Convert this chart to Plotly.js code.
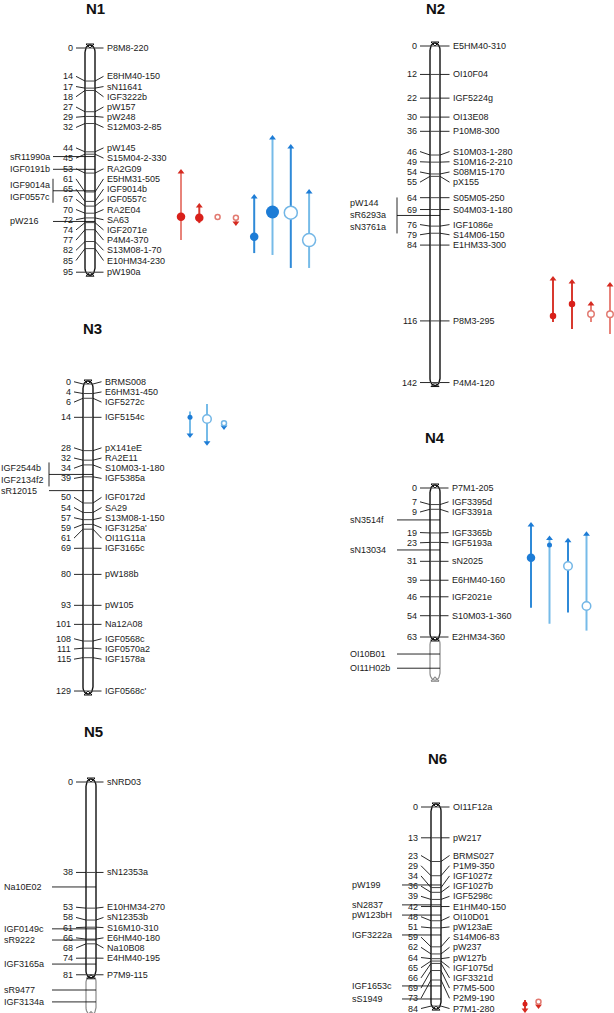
<!DOCTYPE html>
<html><head><meta charset="utf-8">
<script src="https://cdn.plot.ly/plotly-3.0.1.min.js"></script>
<style>html,body{margin:0;padding:0;background:#fff;}#chart{width:614px;height:1013px;}</style>
</head><body><div id="chart"></div>
<script>
// ================= DATA =================
const chromNames = ['N1','N2','N3','N4','N5','N6'];
const chromLength = [95,142,129,63,81,84];
const chromExtension = [null,null,null,80,96.5,null];

const n1Pos = [0,14,17,18,27,29,32,44,45,53,61,65,67,70,72,74,77,82,85,95];
const n1Markers = ['P8M8-220','E8HM40-150','sN11641','IGF3222b','pW157','pW248','S12M03-2-85','pW145','S15M04-2-330','RA2G09','E5HM31-505','IGF9014b','IGF0557c','RA2E04','SA63','IGF2071e','P4M4-370','S13M08-1-70','E10HM34-230','pW190a'];
const n1LeftNames = ['sR11990a','IGF0191b','IGF9014a','IGF0557c','pW216'];
const n1LeftPos = [46,51.4,60.5,60.5,73.5];

const n2Pos = [0,12,22,30,36,46,49,54,55,64,69,76,79,84,116,142];
const n2Markers = ['E5HM40-310','OI10F04','IGF5224g','OI13E08','P10M8-300','S10M03-1-280','S10M16-2-210','S08M15-170','pX155','S05M05-250','S04M03-1-180','IGF1086e','S14M06-150','E1HM33-300','P8M3-295','P4M4-120'];
const n2LeftNames = ['pW144','sR6293a','sN3761a'];
const n2LeftPos = [71.5,71.5,71.5];

const n3Pos = [0,4,6,14,28,32,34,39,50,54,57,59,61,69,80,93,101,108,111,115,129];
const n3Markers = ['BRMS008','E6HM31-450','IGF5272c','IGF5154c','pX141eE','RA2E11','S10M03-1-180','IGF5385a','IGF0172d','SA29','S13M08-1-150',"IGF3125a'",'OI11G11a','IGF3165c','pW188b','pW105','Na12A08','IGF0568c','IGF0570a2','IGF1578a',"IGF0568c'"];
const n3LeftNames = ['IGF2544b','IGF2134f2','sR12015'];
const n3LeftPos = [38,38,44.8];

const n4Pos = [0,7,9,19,23,31,39,46,54,63];
const n4Markers = ['P7M1-205','IGF3395d','IGF3391a','IGF3365b','IGF5193a','sN2025','E6HM40-160','IGF2021e','S10M03-1-360','E2HM34-360'];
const n4LeftNames = ['sN3514f','sN13034','OI10B01','OI11H02b'];
const n4LeftPos = [13.5,26.2,70.2,76.2];

const n5Pos = [0,38,53,58,61,66,68,74,81];
const n5Markers = ['sNRD03','sN12353a','E10HM34-270','sN12353b','S16M10-310','E6HM40-180','Na10B08','E4HM40-195','P7M9-115'];
const n5LeftNames = ['Na10E02','IGF0149c','sR9222','IGF3165a','sR9477','IGF3134a'];
const n5LeftPos = [44.1,61.7,66.4,76.5,87.4,92.4];

const n6Pos = [0,13,23,29,34,36,39,42,48,51,59,62,64,65,66,69,73,84];
const n6Markers = ['OI11F12a','pW217','BRMS027','P1M9-350','IGF1027z','IGF1027b','IGF5298c','E1HM40-150','OI10D01','pW123aE','S14M06-83','pW237','pW127b','IGF1075d','IGF3321d','P7M5-500','P2M9-190','P7M1-280'];
const n6LeftNames = ['pW199','sN2837','pW123bH','IGF3222a','IGF1653c','sS1949'];
const n6LeftPos = [32.9,41.3,45.6,54,75.5,81];

// QTLs
const qtlChrom  = [0,0,0,0,0,0,0,0, 1,1,1,1, 2,2,2, 3,3,3,3, 5,5];
const qtlColumn = [0,1,2,3,4,5,6,7, 0,1,2,3, 0,1,2, 0,1,2,3, 0,1];
const qtlPeak = [71.5,71.9,71.6,71.9,80,69.5,69.8,81.4, 113.9,108.9,113.1,113.2, 14,14.7,16.5, 29.5,24.1,33,49.9, 83.1,82.2];
const qtlLow  = [52.5,67,71.6,71.9,63.1,38.1,41.9,61, 98.3,99.6,108.9,100.8, 11.6,8.4,16.5, 15.6,21.4,22.3,19.6, 81.4,82.2];
const qtlHigh = [81.4,74.2,71.6,74.2,86.9,87.7,93.2,93.2, 116.5,119.4,116.5,121.5, 21.4,24.7,18.1, 50.6,57.4,52.6,60.3, 85.7,84];
const qtlTrait  = ['A','A','A','A','B','B','B','B', 'A','A','A','A', 'B','B','B', 'B','B','B','B', 'A','A'];
const qtlFilled = [1,1,0,0,1,1,0,0, 1,1,0,0, 1,0,0, 1,1,0,0, 1,0];
const qtlEffect = [3,3,1,1,3,4,4,4, 2,2,2,2, 1,3,1, 3,1,3,3, 1,1];
const qtlDir = ['up','up','none','down','up','up','up','up', 'up','up','up','up', 'down','down','down', 'up','up','up','up', 'down','down'];
const qtlSet = [2,1,1,2,1,2,1,2, 1,1,2,2, 2,2,1, 1,2,1,2, 1,1];

// ================= LAYOUT / STYLE =================
const W = 614, H = 1013;
const chromData = [
  [n1Pos,n1Markers,n1LeftNames,n1LeftPos],
  [n2Pos,n2Markers,n2LeftNames,n2LeftPos],
  [n3Pos,n3Markers,n3LeftNames,n3LeftPos],
  [n4Pos,n4Markers,n4LeftNames,n4LeftPos],
  [n5Pos,n5Markers,n5LeftNames,n5LeftPos],
  [n6Pos,n6Markers,n6LeftNames,n6LeftPos]
];
const cfg = {
  cx:    [90, 435, 88, 435, 91, 436],
  zeroY: [48, 46, 384, 488, 782, 807],
  scale: [2.36, 2.37, 2.38, 2.365, 2.38, 2.37],
  numR:  [73, 417, 71, 417, 73, 418],
  nameL: [107, 453, 105, 452, 107, 453],
  leftTx:[10, 350, 1, 350, 4, 352],
  leftLx:[53, 397, 49, 397, 52, 402],
  titleX:[95, 435, 92, 435, 93, 437],
  titleY:[8, 8, 329, 437, 731, 758],
  qx0:   [181, 553, 190, 531, 0, 525],
  qdx:   [18.3, 19, 17, 18.5, 0, 13.5]
};
const HW = 5, GAP = 10.2;
const FONT = 'Liberation Sans, Arial, sans-serif';
const TXT = '#1a1a1a';
const sizeMap = {1:5, 2:6.5, 3:8.5, 4:13};
const colors = {
  A:{dot:'#d9201a', arrow:'#d52a20', line:{1:'#d8392f',2:'#e8837a'}, open:'#e27a71'},
  B:{dot:'#1d7cd6', arrow:'#1d7cd6', line:{1:'#2f8ad8',2:'#76bbe8'}, open:'#72b6e6'}
};

const traces = [];
const annotations = [];
const layout = {
  width: W, height: H, margin:{l:0,r:0,t:0,b:0},
  paper_bgcolor:'#fff', plot_bgcolor:'#fff', showlegend:false,
  xaxis:{range:[0,W], visible:false, fixedrange:true},
  annotations: annotations
};
function yName(k){ return k===0 ? 'y' : 'y'+(k+1); }

function spread(vals, gap){
  let cl = vals.map(v=>({n:1,sum:v}));
  const top = c => c.sum/c.n - (c.n-1)*gap/2;
  let changed = true;
  while(changed){
    changed = false;
    for(let i=0;i<cl.length-1;i++){
      const a=cl[i], b=cl[i+1];
      if(top(b) - (top(a)+(a.n-1)*gap) < gap-1e-9){
        cl.splice(i,2,{n:a.n+b.n,sum:a.sum+b.sum}); changed=true; break;
      }
    }
  }
  const out=[];
  cl.forEach(c=>{ const t=top(c); for(let j=0;j<c.n;j++) out.push(t+j*gap); });
  return out;
}

function pill(cx, a, b, s){
  const ec = 7/s, xs=[], ys=[], N=14;
  for(let i=0;i<=N;i++){ const t=Math.PI-Math.PI*i/N; xs.push(cx+HW*Math.cos(t)); ys.push(a+ec-ec*Math.sin(t)); }
  for(let i=0;i<=N;i++){ const t=Math.PI*i/N; xs.push(cx+HW*Math.cos(t)); ys.push(b-ec+ec*Math.sin(t)); }
  xs.push(xs[0]); ys.push(ys[0]);
  return [xs, ys];
}
function cap(cx, tip, s, dir, X, Y){
  const bar = tip + dir*1/s, v = tip - dir*3/s;
  X.push(cx-4,cx+4,null, cx-4,cx,cx+4,null);
  Y.push(bar,bar,null, bar,v,bar,null);
}

chromNames.forEach((nm,k)=>{
  const [pos, names, lNames, lPos] = chromData[k];
  const s = cfg.scale[k], y0 = cfg.zeroY[k], cx = cfg.cx[k];
  const ya = yName(k);
  layout[k===0?'yaxis':'yaxis'+(k+1)] = Object.assign(
    {range:[(H-y0)/s, -y0/s], visible:false, fixedrange:true},
    k===0 ? {} : {overlaying:'y'});

  annotations.push({xref:'x', yref:'paper', x:cfg.titleX[k], y:1-cfg.titleY[k]/H, text:nm,
    showarrow:false, xanchor:'center', yanchor:'middle', borderpad:0, borderwidth:0,
    font:{family:FONT, size:15, color:'#111', weight:'bold'}});

  const len = chromLength[k];
  const tipA = -3/s, tipB = len + 3/s;
  const ext = chromExtension[k];
  if(ext!==null){
    const [ex, ey] = pill(cx, len, ext+3/s, s);
    const cX=[], cY=[]; cap(cx, ext+3/s, s, 1, cX, cY);
    traces.push({type:'scatter', mode:'lines', x:ex.concat([null],cX), y:ey.concat([null],cY), yaxis:ya,
      line:{color:'#8a8a8a', width:1.2}, hoverinfo:'skip'});
  }
  const [px, py] = pill(cx, tipA, tipB, s);
  traces.push({type:'scatter', mode:'lines', x:px, y:py, yaxis:ya,
    line:{color:'#111', width:1.4}, hoverinfo:'skip'});
  const cX=[], cY=[];
  cap(cx, tipA, s, -1, cX, cY); cap(cx, tipB, s, 1, cX, cY);
  traces.push({type:'scatter', mode:'lines', x:cX, y:cY, yaxis:ya, line:{color:'#111', width:1}, hoverinfo:'skip'});

  const lab = spread(pos, GAP/s);
  const bX=[], bY=[], kX=[], kY=[];
  pos.forEach((p,i)=>{
    bX.push(cx-HW, cx+HW, null); bY.push(p, p, null);
    kX.push(cfg.numR[k]+3, cx-HW, null); kY.push(lab[i], p, null);
    kX.push(cx+HW, cfg.nameL[k]-3.5, null); kY.push(p, lab[i], null);
    annotations.push({xref:'x', yref:ya, x:cfg.numR[k], y:lab[i], text:String(p), showarrow:false,
      xanchor:'right', yanchor:'middle', borderpad:0, borderwidth:0, font:{family:FONT, size:9, color:TXT}});
    annotations.push({xref:'x', yref:ya, x:cfg.nameL[k], y:lab[i], text:names[i], showarrow:false,
      xanchor:'left', yanchor:'middle', borderpad:0, borderwidth:0, font:{family:FONT, size:9, color:TXT}});
  });
  const groups = [];
  lPos.forEach((p,i)=>{
    const g = groups.find(g=>g.p===p);
    if(g) g.idx.push(i); else groups.push({p:p, idx:[i]});
  });
  groups.forEach(g=>{
    const n = g.idx.length, step = 12/s;
    g.idx.forEach((i,j)=>{
      const yy = g.p + (j-(n-1)/2)*step;
      annotations.push({xref:'x', yref:ya, x:cfg.leftTx[k], y:yy, text:lNames[i], showarrow:false,
        xanchor:'left', yanchor:'middle', borderpad:0, borderwidth:0, font:{family:FONT, size:9, color:TXT}});
    });
    kX.push(cfg.leftLx[k], cx+HW, null); kY.push(g.p, g.p, null);
    if(n>1){
      const half = ((n-1)/2)*step + 6/s;
      kX.push(cfg.leftLx[k], cfg.leftLx[k], null); kY.push(g.p-half, g.p+half, null);
    }
  });
  traces.push({type:'scatter', mode:'lines', x:bX, y:bY, yaxis:ya, line:{color:'#444', width:1}, hoverinfo:'skip'});
  traces.push({type:'scatter', mode:'lines', x:kX, y:kY, yaxis:ya, line:{color:'#111', width:0.9}, hoverinfo:'skip'});
});

// QTLs
const dotPts = [];
qtlPeak.forEach((pk,i)=>{
  const k = qtlChrom[i], ya = yName(k);
  const x = cfg.qx0[k] + qtlColumn[i]*cfg.qdx[k];
  const c = colors[qtlTrait[i]];
  if(qtlHigh[i] > qtlLow[i]){
    traces.push({type:'scatter', mode:'lines', x:[x,x], y:[qtlLow[i], qtlHigh[i]], yaxis:ya,
      line:{color:c.line[qtlSet[i]], width:2}, hoverinfo:'skip'});
  }
  if(qtlDir[i] !== 'none'){
    const up = qtlDir[i]==='up';
    traces.push({type:'scatter', mode:'markers', x:[x], y:[up ? qtlLow[i] : qtlHigh[i]], yaxis:ya,
      marker:{symbol: up ? 'triangle-up' : 'triangle-down', size:6, color:c.arrow, line:{width:0}}, hoverinfo:'skip'});
  }
  dotPts.push({x, y:pk, ya, c, i});
});
dotPts.forEach(d=>{
  const filled = qtlFilled[d.i]===1;
  traces.push({type:'scatter', mode:'markers', x:[d.x], y:[d.y], yaxis:d.ya, hoverinfo:'skip',
    marker:{symbol:'circle', size:sizeMap[qtlEffect[d.i]],
      color: filled ? d.c.dot : '#ffffff',
      line: filled ? {width:0} : {color:d.c.open, width:1.5}}});
});

Plotly.newPlot('chart', traces, layout, {staticPlot:true, displayModeBar:false});
</script>
</body></html>
